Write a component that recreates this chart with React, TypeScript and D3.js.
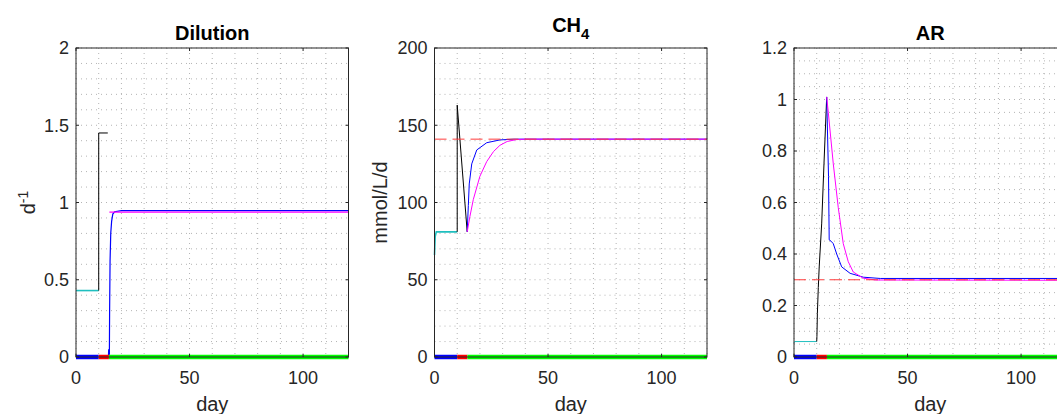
import React from "react";
import * as d3 from "d3";

type Pt = [number, number];

// x axis (days)
const dayTicks = [0, 50, 100];
const dayMinor = [10, 20, 30, 40, 60, 70, 80, 90, 110, 120];

// phase bar along the x axis: [start, end]
const phaseBlue: Pt = [0, 10];
const phaseRed: Pt = [10, 14.5];
const phaseGreen: Pt = [14.5, 120];

// --- Dilution (d^-1)
const dilTicks = [0, 0.5, 1, 1.5, 2];
const dilTickLabels = ["0", "0.5", "1", "1.5", "2"];
const dilMinor = [0.1, 0.2, 0.3, 0.4, 0.6, 0.7, 0.8, 0.9, 1.1, 1.2, 1.3, 1.4, 1.6, 1.7, 1.8, 1.9];
const dilCyan: Pt[] = [[0, 0.43], [10, 0.43]];
const dilBlack: Pt[] = [[10, 0.43], [10, 1.45], [14, 1.45]];
const dilBlue: Pt[] = [
  [14.3, 0.01], [14.4, 0.05], [14.5, 0.01], [14.7, 0.02], [14.8, 0.3], [15, 0.62], [15.3, 0.8],
  [15.7, 0.88], [16.2, 0.925], [17, 0.94], [20, 0.947], [120, 0.947],
];
const dilMagenta: Pt[] = [[14.7, 0.938], [120, 0.938]];

// --- CH4 (mmol/L/d)
const chTicks = [0, 50, 100, 150, 200];
const chTickLabels = ["0", "50", "100", "150", "200"];
const chMinor = [10, 20, 30, 40, 60, 70, 80, 90, 110, 120, 130, 140, 160, 170, 180, 190];
const chCyan: Pt[] = [[0, 66], [0.3, 78], [0.8, 81], [10, 81]];
const chBlack: Pt[] = [[10, 81], [10, 163], [14.4, 81]];
const chBlue: Pt[] = [
  [14.4, 81], [14.9, 98], [15.3, 112], [16.4, 125], [18.6, 134], [23, 138.7],
  [28.8, 140.5], [35, 141], [120, 141],
];
const chMagenta: Pt[] = [
  [14.4, 81], [15.6, 91], [17.1, 102], [20, 117], [23, 126.5], [26, 133],
  [28.8, 137], [32, 139.5], [36, 140.7], [40, 141], [120, 141],
];
const chRef: Pt[] = [[0, 141], [120, 141]];

// --- AR
const arTicks = [0, 0.2, 0.4, 0.6, 0.8, 1, 1.2];
const arTickLabels = ["0", "0.2", "0.4", "0.6", "0.8", "1", "1.2"];
const arMinor = [0.05, 0.1, 0.15, 0.25, 0.3, 0.35, 0.45, 0.5, 0.55, 0.65, 0.7, 0.75, 0.85, 0.9, 0.95, 1.05, 1.1, 1.15];
const arCyan: Pt[] = [[0, 0.055], [0.3, 0.06], [10, 0.06]];
const arBlack: Pt[] = [
  [10, 0.06], [10.1, 0.08], [10.3, 0.17], [10.7, 0.27], [11.1, 0.35], [12.2, 0.52],
  [13.2, 0.75], [14.4, 1.01],
];
const arBlue: Pt[] = [
  [14.4, 1.01], [15.2, 0.7], [15.5, 0.455], [16.3, 0.45], [17.3, 0.44], [18.8, 0.4],
  [21, 0.35], [24.7, 0.325], [30.5, 0.31], [38, 0.305], [120, 0.305],
];
const arMagenta: Pt[] = [
  [14.4, 1.01], [15.1, 0.95], [17.3, 0.75], [19.5, 0.58], [21.7, 0.44], [23.9, 0.37],
  [26.1, 0.33], [30.5, 0.306], [36, 0.299], [120, 0.298],
];
const arRef: Pt[] = [[0, 0.3], [120, 0.3]];

const FONT = "'Liberation Sans', Arial, Helvetica, sans-serif";
const AX = "#262626";
const TOP = 48;
const H = 309;
const W = 272.5;

type Series = { pts: Pt[]; color: string; width: number; dash?: string };

const Panel = ({
  left, yMax, ticks, labels, minor, series,
}: {
  left: number; yMax: number; ticks: number[]; labels: string[]; minor: number[]; series: Series[];
}) => {
  const x = d3.scaleLinear().domain([0, 120]).range([left, left + W]);
  const y = d3.scaleLinear().domain([0, yMax]).range([TOP + H, TOP]);
  const line = d3.line<Pt>().x((d) => x(d[0])).y((d) => y(d[1]));
  const bars: [Pt, string][] = [[phaseBlue, "#0000ff"], [phaseRed, "#ff0000"], [phaseGreen, "#00ff00"]];
  const gridX = [...dayTicks, ...dayMinor];
  const gridY = [...ticks, ...minor];
  return (
    <g>
      <g stroke="#b4b4b4" strokeWidth={1} strokeDasharray="1 4">
        {gridX.map((t) => (
          <line key={"gx" + t} x1={x(t)} x2={x(t)} y1={TOP} y2={TOP + H} />
        ))}
        {gridY.map((t) => (
          <line key={"gy" + t} x1={left} x2={left + W} y1={y(t)} y2={y(t)} />
        ))}
      </g>
      {series.map((s, i) => (
        <path key={i} d={line(s.pts) || ""} fill="none" stroke={s.color}
          strokeWidth={s.width} strokeDasharray={s.dash} />
      ))}
      {bars.map(([r, c]) => (
        <line key={c} x1={x(r[0])} x2={x(r[1])} y1={y(0)} y2={y(0)} stroke={c} strokeWidth={4.5} />
      ))}
      <rect x={left} y={TOP} width={W} height={H} fill="none" stroke={AX} strokeWidth={1} />
      <g stroke={AX} strokeWidth={1}>
        {dayTicks.map((t) => (
          <g key={"tx" + t}>
            <line x1={x(t)} x2={x(t)} y1={TOP + H} y2={TOP + H - 3} />
            <line x1={x(t)} x2={x(t)} y1={TOP} y2={TOP + 3} />
          </g>
        ))}
        {ticks.map((t) => (
          <g key={"ty" + t}>
            <line x1={left} x2={left + 3} y1={y(t)} y2={y(t)} />
            <line x1={left + W} x2={left + W - 3} y1={y(t)} y2={y(t)} />
          </g>
        ))}
      </g>
      <g fontFamily={FONT} fontSize={18} fill={AX}>
        {dayTicks.map((t) => (
          <text key={"lx" + t} x={x(t)} y={383.5} textAnchor="middle">{t}</text>
        ))}
        {ticks.map((t, i) => (
          <text key={"ly" + t} x={left - 7} y={y(t)} dy="0.35em" textAnchor="end">{labels[i]}</text>
        ))}
        <text x={left + W / 2} y={411} textAnchor="middle" fontSize={20}>day</text>
      </g>
    </g>
  );
};

export default function App() {
  const lefts = [76, 434.5, 794];
  return (
    <svg width={1057} height={414} style={{ position: "fixed", left: 0, top: 0, background: "#fff" }}>
      <rect width={1057} height={414} fill="#fff" />
      <Panel left={lefts[0]} yMax={2} ticks={dilTicks} labels={dilTickLabels} minor={dilMinor}
        series={[
          { pts: dilCyan, color: "#1fbfbf", width: 1.6 },
          { pts: dilBlack, color: "#000", width: 1 },
          { pts: dilBlue, color: "#0000ff", width: 1.2 },
          { pts: dilMagenta, color: "#ff00ff", width: 1.4 },
        ]} />
      <Panel left={lefts[1]} yMax={200} ticks={chTicks} labels={chTickLabels} minor={chMinor}
        series={[
          { pts: chCyan, color: "#1fbfbf", width: 1.6 },
          { pts: chBlack, color: "#000", width: 1 },
          { pts: chBlue, color: "#0000ff", width: 1 },
          { pts: chMagenta, color: "#ff00ff", width: 1 },
          { pts: chRef, color: "#ff3b3b", width: 1, dash: "12 6" },
        ]} />
      <Panel left={lefts[2]} yMax={1.2} ticks={arTicks} labels={arTickLabels} minor={arMinor}
        series={[
          { pts: arCyan, color: "#1fbfbf", width: 1 },
          { pts: arBlack, color: "#000", width: 1 },
          { pts: arBlue, color: "#0000ff", width: 1 },
          { pts: arMagenta, color: "#ff00ff", width: 1 },
          { pts: arRef, color: "#ff3b3b", width: 1, dash: "12 6" },
        ]} />
      <g fontFamily={FONT} fontWeight="bold" fontSize={20} fill="#000" textAnchor="middle">
        <text x={lefts[0] + W / 2} y={40}>Dilution</text>
        <text x={lefts[1] + W / 2} y={32}>CH<tspan dy={7} fontSize={15}>4</tspan></text>
        <text x={lefts[2] + W / 2} y={40}>AR</text>
      </g>
      <g fontFamily={FONT} fontSize={20} fill={AX} textAnchor="middle">
        <text transform={`translate(35,${TOP + H / 2}) rotate(-90)`}>
          d<tspan dy={-7} fontSize={14}>-1</tspan>
        </text>
        <text transform={`translate(387,${TOP + H / 2}) rotate(-90)`}>mmol/L/d</text>
      </g>
    </svg>
  );
}
